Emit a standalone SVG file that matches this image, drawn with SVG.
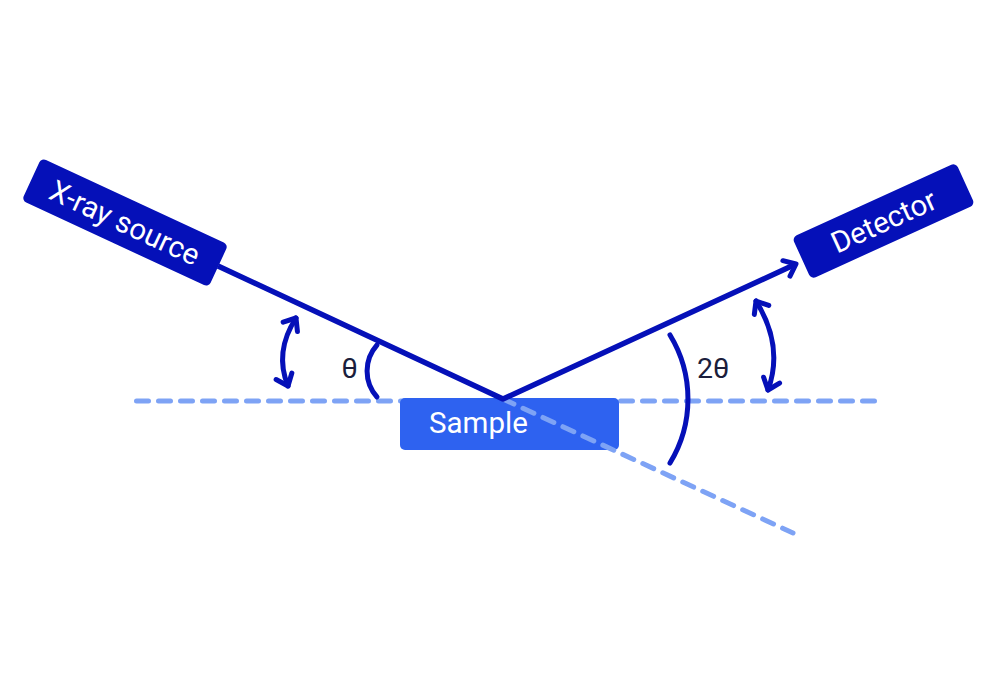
<svg xmlns="http://www.w3.org/2000/svg" width="999" height="694" viewBox="0 0 999 694">
  <style>
    .beam { fill: none; stroke: #0510b8; stroke-width: 5.5; stroke-linecap: butt; stroke-linejoin: round; }
    .dash { fill: none; stroke: #7ea3f5; stroke-width: 5; stroke-linecap: round; stroke-dasharray: 12 10; }
    .arc { fill: none; stroke: #0510b8; stroke-width: 5; stroke-linecap: round; }
    .box { fill: #0510b8; }
    .sample { fill: #2e62f0; }
    .boxtext { font-family: Roboto, "Liberation Sans", sans-serif; font-size: 29.5px; fill: #ffffff; }
    .label { font-family: Roboto, "Liberation Sans", sans-serif; font-size: 28.5px; fill: #1b1e3c; }
  </style>
  <defs>
    <marker id="chev" markerUnits="userSpaceOnUse" viewBox="-16 -16 32 32" markerWidth="32" markerHeight="32" refX="0" refY="0" orient="auto-start-reverse" overflow="visible">
      <path d="M-10.5,-8.5 L0,0 L-10.5,8.5" fill="none" stroke="#0510b8" stroke-width="5" stroke-linecap="round" stroke-linejoin="round"/>
    </marker>
  </defs>
  <rect width="999" height="694" fill="#ffffff"/>

  <g id="baseline-group">
    <line class="dash" x1="136.5" y1="401" x2="883" y2="401"/>
  </g>

  <g id="sample">
    <rect class="sample" x="400" y="398" width="219" height="52" rx="5"/>
    <text class="boxtext" x="429" y="433">Sample</text>
  </g>

  <g id="connectors">
    <line class="dash" x1="503" y1="399" x2="793" y2="533"/>
    <polyline class="beam" points="218,266 503,399 796,264" marker-end="url(#chev)"/>
    <path class="arc" d="M377,345 A39,39 0 0 0 377,397"/>
    <path class="arc" d="M670,335 A123,123 0 0 1 670,463"/>
    <path class="arc" d="M296,318 Q274,352 288,386" marker-start="url(#chev)" marker-end="url(#chev)"/>
    <path class="arc" d="M756,301 Q784,346 768,390" marker-start="url(#chev)" marker-end="url(#chev)"/>
  </g>

  <g id="xray-source" transform="translate(125,222.5) rotate(24.9)">
    <rect class="box" x="-103" y="-23.5" width="206" height="47" rx="5"/>
    <text class="boxtext" x="0" y="10.5" text-anchor="middle">X-ray source</text>
  </g>

  <g id="detector" transform="translate(883.5,221) rotate(-24.5)">
    <rect class="box" x="-90" y="-23" width="180" height="46" rx="5"/>
    <text class="boxtext" x="0" y="10.5" text-anchor="middle">Detector</text>
  </g>

  <g id="labels">
    <text class="label" x="341.5" y="378">θ</text>
    <text class="label" x="697" y="378">2θ</text>
  </g>
</svg>
